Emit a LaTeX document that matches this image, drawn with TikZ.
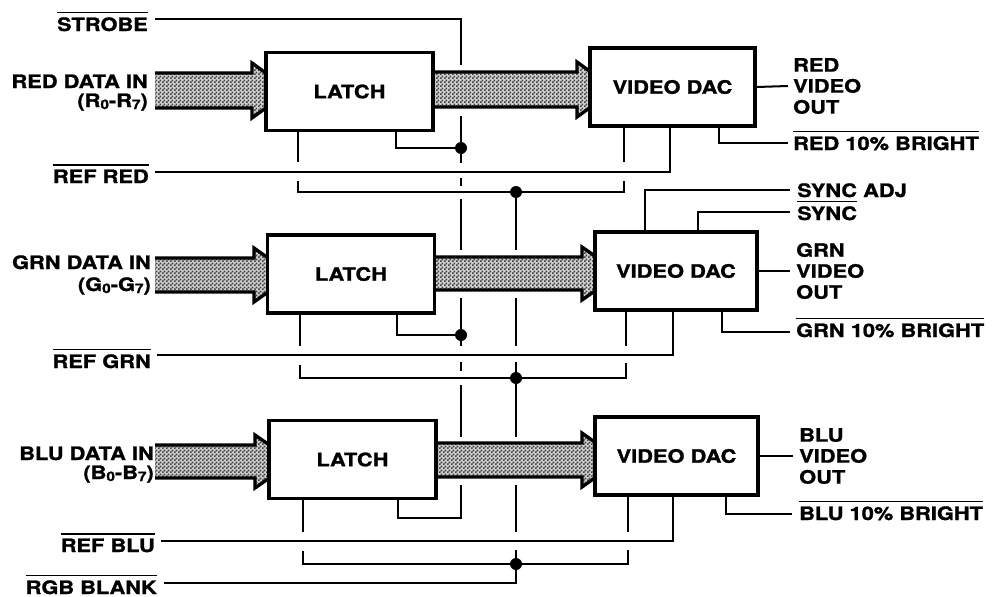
\documentclass[tikz,border=0pt]{standalone}
\usepackage{fontspec}
\setmainfont{TeX Gyre Heros}[FakeStretch=1.18, BoldFeatures={FakeBold=1.2}]
\usetikzlibrary{patterns}
\pgfdeclarepatternformonly{finechecker}{\pgfpointorigin}{\pgfpoint{3.6pt}{3.6pt}}{\pgfpoint{3.6pt}{3.6pt}}{%
  \pgfpathrectangle{\pgfpointorigin}{\pgfpoint{1.8pt}{1.8pt}}%
  \pgfpathrectangle{\pgfpoint{1.8pt}{1.8pt}}{\pgfpoint{1.8pt}{1.8pt}}%
  \pgfusepath{fill}}
\newcommand\ovl[1]{\leavevmode\setbox0=\hbox{#1}\rlap{\raisebox{\dimexpr\ht0+4pt\relax}{\rule{\wd0}{1.5pt}}}\box0}
\newcommand\lowidx[1]{\raisebox{-2pt}{\fontsize{13}{13}\selectfont #1}}
\newcommand\busarrow[4]{%
  \path[fill=black!18, postaction={pattern=finechecker, pattern color=black!75}] (#1,#3) -- (#2-13,#3) -- (#2-13,#3-10) -- (#2+25,{(#3+#4)/2}) -- (#2-13,#4+10) -- (#2-13,#4) -- (#1,#4) -- cycle;
  \draw[line width=3.3pt, line join=miter] (#1,#3) -- (#2-13,#3) -- (#2-13,#3-10) -- (#2+25,{(#3+#4)/2}) -- (#2-13,#4+10) -- (#2-13,#4) -- (#1,#4);
}
\tikzset{
  txt/.style={font=\bfseries\fontsize{18.5}{21}\selectfont, inner sep=0pt},
  blk/.style={draw, line width=3.8pt, fill=white, minimum width=167pt, minimum height=78pt, inner sep=0pt, txt},
  wire/.style={line width=2pt, line join=miter},
  jdot/.style={circle, fill, inner sep=0pt, minimum size=12pt}
}
\begin{document}
\begin{tikzpicture}[x=1pt,y=-1pt]
\useasboundingbox (0,0) rectangle (999,597);

% ---------- buses ----------
\busarrow{155}{265}{73}{108}
\busarrow{434}{590}{72}{107}
\busarrow{155}{267}{258}{292}
\busarrow{435}{595}{257}{290}
\busarrow{155}{268}{445}{478}
\busarrow{437}{595}{443}{477}

% ---------- blocks ----------
\node[blk] (L1) at (349.5,91.5) {LATCH};
\node[blk, minimum width=165pt] (D1) at (672.5,87) {VIDEO DAC};
\node[blk] (L2) at (351,274) {LATCH};
\node[blk, minimum width=162pt] (D2) at (676,271) {VIDEO DAC};
\node[blk] (L3) at (352.5,459.5) {LATCH};
\node[blk, minimum width=163pt] (D3) at (676.5,456) {VIDEO DAC};

% ---------- left labels ----------
\node[txt, anchor=base east] (strobe) at (148,31) {\ovl{STROBE}};
\node[txt, anchor=base east] (redin) at (148,88) {RED DATA IN};
\node[txt, anchor=base east] (redbits) at (148,107) {(R\lowidx{0}-R\lowidx{7})};
\node[txt, anchor=base east] (refred) at (149,183) {\ovl{REF RED}};
\node[txt, anchor=base east] (grnin) at (151,269) {GRN DATA IN};
\node[txt, anchor=base east] (grnbits) at (151,291) {(G\lowidx{0}-G\lowidx{7})};
\node[txt, anchor=base east] (refgrn) at (151,368) {\ovl{REF GRN}};
\node[txt, anchor=base east] (bluin) at (154,460) {BLU DATA IN};
\node[txt, anchor=base east] (blubits) at (154,479) {(B\lowidx{0}-B\lowidx{7})};
\node[txt, anchor=base east] (refblu) at (155,552) {\ovl{REF BLU}};
\node[txt, anchor=base east] (blank) at (157,594) {\ovl{RGB BLANK}};

% ---------- right labels ----------
\node[txt, anchor=west, align=left] (redout) at (793,86) {RED\\VIDEO\\OUT};
\node[txt, anchor=base west] (redbr) at (793,150) {\ovl{RED 10\% BRIGHT}};
\node[txt, anchor=base west] (syncadj) at (797,197) {SYNC ADJ};
\node[txt, anchor=base west] (sync) at (797,220) {\ovl{SYNC}};
\node[txt, anchor=west, align=left] (grnout) at (796,271) {GRN\\VIDEO\\OUT};
\node[txt, anchor=base west] (grnbr) at (796,337) {\ovl{GRN 10\% BRIGHT}};
\node[txt, anchor=west, align=left] (bluout) at (799,456) {BLU\\VIDEO\\OUT};
\node[txt, anchor=base west] (blubr) at (799,520) {\ovl{BLU 10\% BRIGHT}};

% ---------- strobe line ----------
\draw[wire] (155,19) -- (461,19) -- (461,65);
\draw[wire] (461,116) -- (461,163);
\draw[wire] (461,178) -- (461,186);
\draw[wire] (461,199) -- (461,250);
\draw[wire] (461,298) -- (461,346);
\draw[wire] (461,362) -- (461,371);
\draw[wire] (461,385) -- (461,437);
\draw[wire] (461,485) -- (461,518) -- (398,518) -- (398,498);
\draw[wire] (396,131) -- (396,148) -- (461,148);
\draw[wire] (397,313) -- (397,335) -- (461,335);

% ---------- blank line ----------
\draw[wire] (516,192) -- (516,250);
\draw[wire] (516,298) -- (516,346);
\draw[wire] (516,362) -- (516,437);
\draw[wire] (516,485) -- (516,532);
\draw[wire] (516,550) -- (516,583) -- (164,583);

% ---------- block 1 ----------
\draw[wire] (298,131) -- (298,162);
\draw[wire] (624,126) -- (624,162);
\draw[wire] (298,181) -- (298,192) -- (624,192) -- (624,181);
\draw[wire] (155,172) -- (670,172) -- (670,126);
\draw[wire] (719,126) -- (719,143) -- (788,143);
\draw[wire] (D1.east) -- ([xshift=-5pt]redout.west);

% ---------- block 2 ----------
\draw[wire] (300,313) -- (300,346);
\draw[wire] (626,310) -- (626,346);
\draw[wire] (300,365) -- (300,378) -- (626,378) -- (626,363);
\draw[wire] (157,355) -- (673,355) -- (673,310);
\draw[wire] (645,232) -- (645,190) -- (790,190);
\draw[wire] (698,232) -- (698,212) -- (790,212);
\draw[wire] (D2.east) -- ([xshift=-6pt]grnout.west);
\draw[wire] (722,310) -- (722,332) -- (790,332);

% ---------- block 3 ----------
\draw[wire] (303,498) -- (303,532);
\draw[wire] (628,495) -- (628,532);
\draw[wire] (303,551) -- (303,564) -- (628,564) -- (628,550);
\draw[wire] (161,541) -- (673,541) -- (673,495);
\draw[wire] (726,495) -- (726,514) -- (792,514);
\draw[wire] (D3.east) -- ([xshift=-6pt]bluout.west);

% ---------- junction dots ----------
\node[jdot] (j1) at (461,148) {};
\node[jdot] (j2) at (461,335) {};
\node[jdot] (k1) at (516,192) {};
\node[jdot] (k2) at (516,378) {};
\node[jdot] (k3) at (516,564) {};
\end{tikzpicture}
\end{document}
